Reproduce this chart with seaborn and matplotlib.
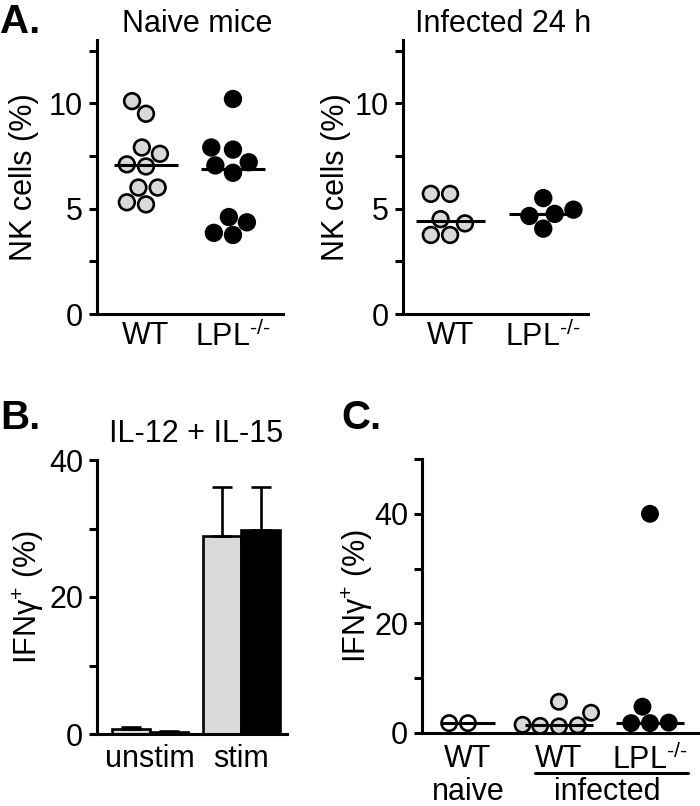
import numpy as np
import pandas as pd
import matplotlib
matplotlib.use("Agg")
import matplotlib.pyplot as plt
import matplotlib.transforms as mtransforms
import seaborn as sns

# ---------------- data ----------------
genotypes = ["WT", "LPL"]
geno_labels = ["WT", "LPL$^{\\text{-/-}}$"]

naive_wt = [10.1, 9.5, 7.9, 7.6, 7.1, 7.0, 6.0, 6.0, 5.2, 5.3]
naive_lpl = [10.2, 7.9, 7.8, 7.2, 7.05, 6.7, 4.6, 4.35, 3.85, 3.75]
inf_wt = [5.7, 5.7, 4.5, 4.3, 3.75, 3.75]
inf_lpl = [5.5, 4.95, 4.75, 4.65, 4.05]

conditions = ["unstim", "stim"]
bar_wt_mean = [0.8, 28.9]
bar_wt_err = [0.2, 7.1]
bar_lpl_mean = [0.3, 29.8]
bar_lpl_err = [0.1, 6.2]

c_groups = ["naive WT", "infected WT", "infected LPL"]
c_tick_labels = ["WT", "WT", "LPL$^{\\text{-/-}}$"]
ifn_naive_wt = [1.8, 1.8]
ifn_inf_wt = [3.7, 5.7, 1.5, 1.4, 1.3, 1.2]
ifn_inf_lpl = [40.0, 4.8, 1.9, 1.8, 1.8]

# ---------------- style ----------------
sns.set_style("ticks")
plt.rcParams["font.family"] = ["Liberation Sans", "DejaVu Sans"]
plt.rcParams["mathtext.fontset"] = "custom"
plt.rcParams["mathtext.rm"] = "Liberation Sans"
plt.rcParams["mathtext.it"] = "Liberation Sans:italic"
plt.rcParams["mathtext.default"] = "regular"
for k in ["text.color", "axes.labelcolor", "xtick.color", "ytick.color",
          "axes.edgecolor"]:
    plt.rcParams[k] = "black"

FS = 22
LW = 2.2
GRAY = "#d9d9d9"

fig = plt.figure(figsize=(7, 8.06), dpi=100)
W, H = 700.0, 806.0
axA1 = fig.add_axes([97 / W, 492 / H, 186 / W, 274 / H])
axA2 = fig.add_axes([403 / W, 492 / H, 185 / W, 274 / H])
axB = fig.add_axes([97 / W, 72 / H, 190 / W, 274 / H])
axC = fig.add_axes([422 / W, 73 / H, 278 / W, 274 / H])


def style(ax):
    sns.despine(ax=ax)
    for s in ["left", "bottom"]:
        ax.spines[s].set_linewidth(LW)
        ax.spines[s].set_color("black")
    ax.tick_params(axis="y", length=6, width=LW, labelsize=FS, pad=4,
                   direction="out", color="black", labelcolor="black")
    ax.tick_params(axis="x", length=0, labelsize=FS, pad=5,
                   labelcolor="black")


def scatter_panel(ax, wt, lpl, xlim):
    df = pd.DataFrame({
        "g": ["WT"] * len(wt) + ["LPL"] * len(lpl),
        "v": list(wt) + list(lpl),
    })
    sns.swarmplot(data=df, x="g", y="v", hue="g", order=genotypes,
                  palette={"WT": GRAY, "LPL": "black"}, size=11.3,
                  edgecolor="black", linewidth=1.9, legend=False, ax=ax,
                  zorder=3)
    med = df.groupby("g")["v"].median()
    for i, g in enumerate(genotypes):
        ax.hlines(med[g], i - 0.37, i + 0.37, color="black", lw=LW, zorder=4)
    ax.set_xlim(*xlim)
    ax.set_ylim(0, 13)
    ax.set_yticks([0, 2.5, 5, 7.5, 10, 12.5], ["0", "", "5", "", "10", ""])
    ax.set_xticks(range(len(genotypes)), geno_labels)
    ax.set_xlabel("")
    ax.set_ylabel("NK cells (%)", fontsize=FS)
    style(ax)


scatter_panel(axA1, naive_wt, naive_lpl, (-0.563, 1.575))
axA1.yaxis.set_label_coords(-0.31, 0.5)
axA1.set_title("Naive mice", fontsize=FS, x=0.538, pad=6)

scatter_panel(axA2, inf_wt, inf_lpl, (-0.505, 1.48))
axA2.yaxis.set_label_coords(-0.28, 0.5)
axA2.set_title("Infected 24 h", fontsize=FS, x=0.54, pad=6)

# ---------------- panel B ----------------
dfb = pd.DataFrame({
    "cond": conditions * 2,
    "geno": ["WT"] * 2 + ["LPL"] * 2,
    "v": bar_wt_mean + bar_lpl_mean,
})
sns.barplot(data=dfb, x="cond", y="v", hue="geno", order=conditions,
            hue_order=genotypes, palette={"WT": GRAY, "LPL": "black"},
            edgecolor="black", linewidth=1.9, width=0.84, errorbar=None,
            legend=False, ax=axB, zorder=2)
for cont, errs in zip(axB.containers, [bar_wt_err, bar_lpl_err]):
    for bar, e in zip(cont, errs):
        xc = bar.get_x() + bar.get_width() / 2
        yt = bar.get_height()
        axB.errorbar(xc, yt, yerr=[[0], [e]], fmt="none", ecolor="black",
                     elinewidth=1.9, capsize=7, capthick=1.9, zorder=3)
axB.set_xlim(-0.58, 1.5)
axB.set_ylim(0, 40)
axB.set_yticks([0, 10, 20, 30, 40], ["0", "", "20", "", "40"])
axB.set_xlabel("")
axB.set_ylabel("IFNγ$^{+}$ (%)", fontsize=FS)
style(axB)
axB.tick_params(axis="x", pad=7)
axB.yaxis.set_label_coords(-0.27, 0.5)
axB.set_title("IL-12 + IL-15", fontsize=FS, x=0.52, pad=13)

# ---------------- panel C ----------------
dfc = pd.DataFrame({
    "g": [c_groups[0]] * len(ifn_naive_wt) + [c_groups[1]] * len(ifn_inf_wt)
         + [c_groups[2]] * len(ifn_inf_lpl),
    "v": ifn_naive_wt + ifn_inf_wt + ifn_inf_lpl,
})
sns.swarmplot(data=dfc, x="g", y="v", hue="g", order=c_groups,
              palette={c_groups[0]: "white", c_groups[1]: GRAY,
                       c_groups[2]: "black"},
              size=11, edgecolor="black", linewidth=1.9, legend=False,
              ax=axC, zorder=3)
medc = dfc.groupby("g")["v"].median()
for i, g in enumerate(c_groups):
    hw = 0.3 if i == 0 else 0.37
    axC.hlines(medc[g], i - hw, i + hw, color="black", lw=LW, zorder=4)
axC.set_xlim(-0.505, 2.55)
axC.set_ylim(0, 50)
axC.set_yticks([0, 10, 20, 30, 40, 50], ["0", "", "20", "", "40", ""])
axC.set_xticks(range(3), c_tick_labels)
axC.set_xlabel("")
axC.set_ylabel("IFNγ$^{+}$ (%)", fontsize=FS)
style(axC)
axC.tick_params(axis="x", pad=8)
axC.yaxis.set_label_coords(-0.168, 0.5)

trans = mtransforms.blended_transform_factory(axC.transData, axC.transAxes)
axC.plot([0.74, 2.42], [-0.146, -0.146], color="black", lw=LW,
         transform=trans, clip_on=False)
axC.text(0, -0.243, "naive", transform=trans, ha="center", va="baseline",
         fontsize=FS)
axC.text(1.53, -0.243, "infected", transform=trans, ha="center",
         va="baseline", fontsize=FS)

# ---------------- panel letters ----------------
fig.text(0.0, 1 - 33 / H, "A.", fontsize=29, fontweight="bold", va="baseline")
fig.text(0.0, 1 - 429 / H, "B.", fontsize=29, fontweight="bold", va="baseline")
fig.text(341 / W, 1 - 429 / H, "C.", fontsize=29, fontweight="bold",
         va="baseline")

fig.savefig("out.png", dpi=100)
